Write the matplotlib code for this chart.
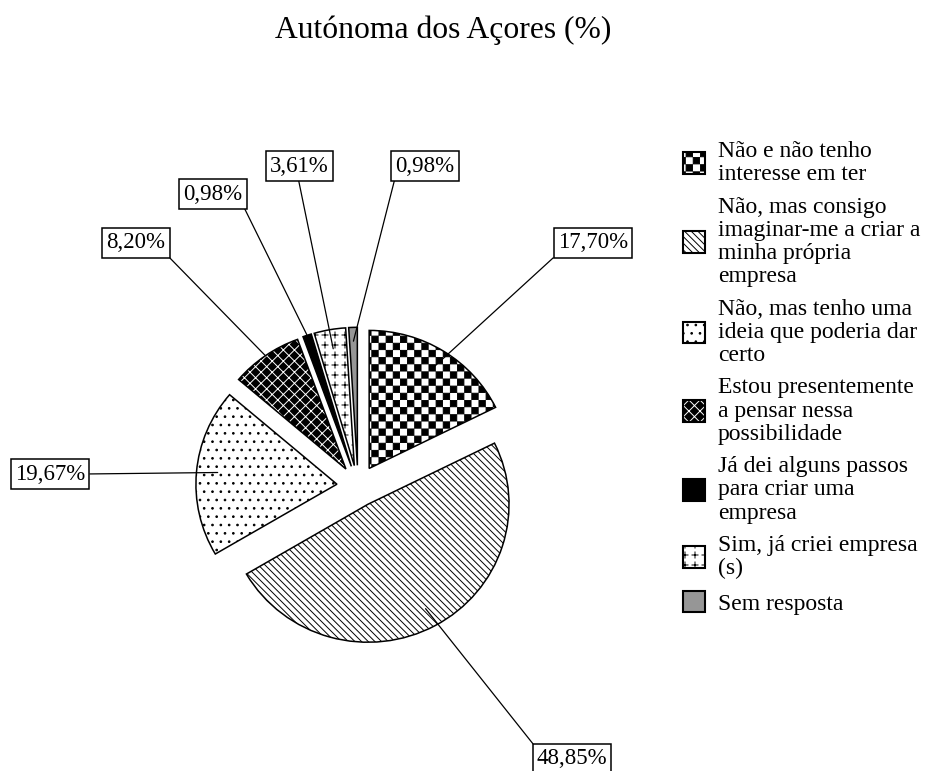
import warnings
import numpy as np
import matplotlib
matplotlib.use("Agg")
import matplotlib.pyplot as plt
import matplotlib.hatch as mhatch
from matplotlib.path import Path

warnings.filterwarnings("ignore")

# ---- data ----
title = "Autónoma dos Açores (%)"
categories = [
    "Não e não tenho\ninteresse em ter",
    "Não, mas consigo\nimaginar-me a criar a\nminha própria\nempresa",
    "Não, mas tenho uma\nideia que poderia dar\ncerto",
    "Estou presentemente\na pensar nessa\npossibilidade",
    "Já dei alguns passos\npara criar uma\nempresa",
    "Sim, já criei empresa\n(s)",
    "Sem resposta",
]
values = [17.70, 48.85, 19.67, 8.20, 0.98, 3.61, 0.98]

# ---- style ----
faces = ["white", "white", "white", "black", "black", "white", "#969696"]
hatches = ["c", "d", "..", "xxx", None, "p", None]


class CheckerHatch(mhatch.HatchPatternBase):
    """'c' -> black/white checkerboard"""
    filled = True

    def __init__(self, hatch, density):
        self.n = 14 * hatch.count("c")
        self.num_vertices = (self.n * self.n // 2) * 5

    def set_vertices_and_codes(self, vertices, codes):
        s = 1.0 / self.n
        e = 0.004
        k = 0
        for i in range(self.n):
            for j in range(self.n):
                if (i + j) % 2:
                    continue
                x0, y0 = i * s + e, j * s + e
                x1, y1 = (i + 1) * s - e, (j + 1) * s - e
                vertices[k:k + 5] = [(x0, y0), (x1, y0), (x1, y1), (x0, y1), (x0, y0)]
                codes[k:k + 5] = [Path.MOVETO, Path.LINETO, Path.LINETO,
                                  Path.LINETO, Path.CLOSEPOLY]
                k += 5


class DiagHatch(mhatch.HatchPatternBase):
    """'d' -> thin lines running down to the right"""
    filled = False

    def __init__(self, hatch, density):
        self.num_lines = 30 * hatch.count("d")
        self.num_vertices = (self.num_lines + 1) * 2 if self.num_lines else 0

    def set_vertices_and_codes(self, vertices, codes):
        steps = np.linspace(-0.5, 0.5, self.num_lines + 1)
        vertices[0::2, 0] = 0.0 + steps
        vertices[0::2, 1] = 1.0 + steps
        vertices[1::2, 0] = 1.0 + steps
        vertices[1::2, 1] = 0.0 + steps
        codes[0::2] = Path.MOVETO
        codes[1::2] = Path.LINETO


class PlusHatch(mhatch.HatchPatternBase):
    """'p' -> small plus signs"""
    filled = False

    def __init__(self, hatch, density):
        self.n = 10 * hatch.count("p")
        self.num_vertices = self.n * self.n * 4

    def set_vertices_and_codes(self, vertices, codes):
        s = 1.0 / self.n
        a = 0.3 * s
        k = 0
        for i in range(self.n):
            for j in range(self.n):
                cx, cy = (i + 0.5) * s, (j + 0.5) * s
                vertices[k:k + 4] = [(cx - a, cy), (cx + a, cy), (cx, cy - a), (cx, cy + a)]
                codes[k:k + 4] = [Path.MOVETO, Path.LINETO, Path.MOVETO, Path.LINETO]
                k += 4


mhatch._hatch_types.extend([CheckerHatch, DiagHatch, PlusHatch])

plt.rcParams["font.family"] = ["Liberation Serif", "DejaVu Serif"]
plt.rcParams["hatch.linewidth"] = 0.7

W, H = 930, 771
CX, CY = 358, 486      # pie centre, pixels from top-left
RX, RY = 141, 138      # pie radius in pixels (slightly wider than tall)

fig = plt.figure(figsize=(W / 100, H / 100), dpi=100)
ax = fig.add_axes([0, 0, 1, 1])

wedges, _ = ax.pie(values, startangle=90, counterclock=False,
                   explode=[0.15] * len(values), colors=faces, hatch=hatches,
                   wedgeprops=dict(edgecolor="black", linewidth=1.1))

# white cross lines on the black slice
if hasattr(wedges[3], "set_hatchcolor"):
    wedges[3].set_hatchcolor("white")
else:
    wedges[3]._hatch_color = (1, 1, 1, 1)

ax.set_xlim(-CX / RX, (W - CX) / RX)
ax.set_ylim(-(H - CY) / RY, CY / RY)
ax.set_aspect("auto")
ax.axis("off")

# ---- value labels (box centre px, attach point on box, angle pos in wedge, radial pos) ----
label_pos = [(593, 243), (572, 759), (50, 474), (136, 243), (213, 194), (299, 166), (425, 166)]
label_rel = [(0, 0), (0, 1), (1, 0.5), (1, 0), (1, 0), (0.48, 0), (0, 0)]
label_t = [0.5, 0.5, 0.49, 0.5, 0.5, 0.5, 0.5]
label_r = [0.86, 0.86, 0.85, 1.0, 1.0, 0.86, 0.9]

for w, v, (bx, by), rp, t, rf in zip(wedges, values, label_pos, label_rel, label_t, label_r):
    th = np.radians(w.theta1 + t * (w.theta2 - w.theta1))
    px = w.center[0] + rf * w.r * np.cos(th)
    py = w.center[1] + rf * w.r * np.sin(th)
    ax.annotate(f"{v:.2f}%".replace(".", ","), xy=(px, py),
                xytext=(bx, H - by), textcoords="figure pixels",
                ha="center", va="center", fontsize=16.5,
                bbox=dict(boxstyle="square,pad=0.18", fc="white", ec="black", lw=1.1),
                arrowprops=dict(arrowstyle="-", color="black", lw=0.9,
                                shrinkA=0, shrinkB=0, relpos=rp))

leg = ax.legend(wedges, categories, loc="upper left",
                bbox_to_anchor=(683 / W, 1 - 141 / H), bbox_transform=fig.transFigure,
                frameon=False, fontsize=17, handlelength=0.93, handleheight=1.02,
                handletextpad=0.55, labelspacing=0.48, borderpad=0, borderaxespad=0)
for txt in leg.get_texts():
    txt.set_linespacing(1.14)
for hp in leg.get_patches():
    hp.set_linewidth(1.5)

fig.text(443 / W, 1 - 38 / H, title, ha="center", va="baseline", fontsize=22.8)

fig.savefig("out.png", dpi=100)
